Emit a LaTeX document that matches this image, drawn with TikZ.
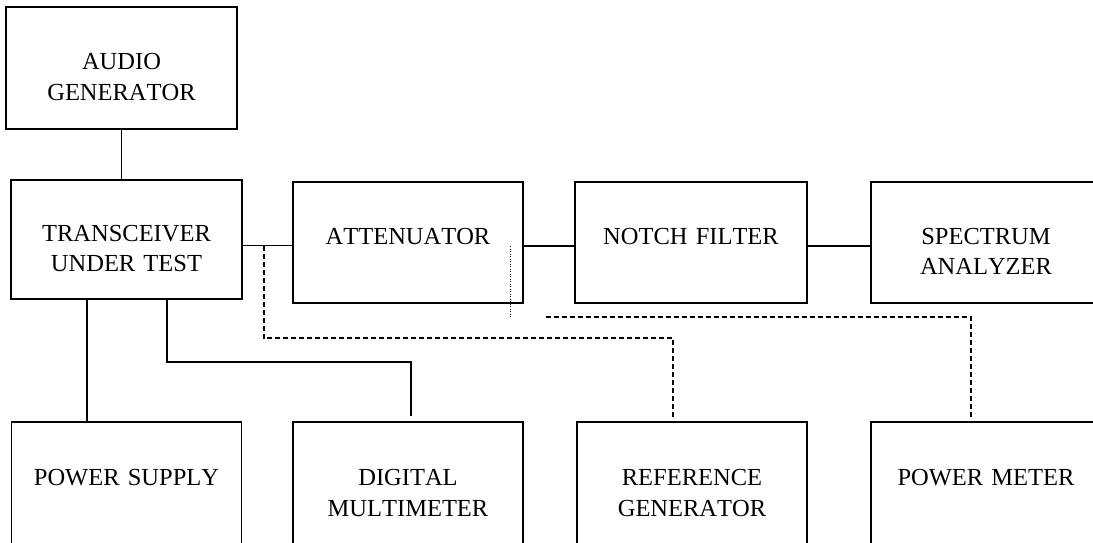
\documentclass[tikz,border=0pt]{standalone}
\usepackage{fontspec}
\setmainfont[Kerning=Off]{Liberation Serif}
\usetikzlibrary{calc}

\begin{document}
\begin{tikzpicture}[x=1pt, y=-1pt,
  every node/.style={font=\fontsize{24.5}{30.5}\selectfont},
  blk/.style={draw, line width=1.6pt, minimum width=230pt, minimum height=121pt,
    inner sep=0pt, text width=228pt, align=center, text height=19pt, text depth=16pt},
  wire/.style={line width=1.6pt},
  dsh/.style={line width=1.6pt, dash pattern=on 5pt off 3pt},
  dot/.style={line width=1.2pt, dash pattern=on 1pt off 1.5pt}]
  \useasboundingbox (0,0) rectangle (1093,542);

  % bovenste rij
  \node[blk, minimum width=231pt, minimum height=122pt] (audio) at (121.5,68) {AUDIO\\GENERATOR};
  \node[blk, minimum width=231pt, minimum height=119pt] (trx) at (126.5,239.5) {TRANSCEIVER\\UNDER TEST};
  \node[blk] (att) at (408,242.5) {ATTENUATOR};
  \node[blk, minimum width=232pt] (notch) at (691,242.5) {NOTCH FILTER};
  \node[blk] (spec) at (986,242.5) {SPECTRUM\\ANALYZER};

  % onderste rij
  \node[blk, minimum height=124pt] (psu) at (126.5,484) {POWER SUPPLY};
  \node[blk, minimum height=124pt] (dmm) at (408,484) {DIGITAL\\MULTIMETER};
  \node[blk, minimum height=124pt] (refgen) at (692,484) {REFERENCE\\GENERATOR};
  \node[blk, minimum height=124pt] (pwm) at (986,484) {POWER METER};

  % signaalketen
  \draw[wire] (audio.south) -- (audio.south |- trx.north);
  \draw[wire] ([yshift=-6pt]trx.east) -- ([yshift=-3pt]att.west);
  \draw[wire] ([yshift=-3.5pt]att.east) -- ([yshift=-3.5pt]notch.west);
  \draw[wire] ([yshift=-3.5pt]notch.east) -- ([yshift=-3.5pt]spec.west);

  % voeding en meter
  \draw[wire] ([xshift=-39.5pt]trx.south) -- ([xshift=-39.5pt]trx.south |- psu.north);
  \draw[wire, shorten >=5pt] ([xshift=40.5pt]trx.south) -- ++(0,62) -| ([xshift=3pt]dmm.north);

  % gestippelde verbindingen
  \coordinate (tapA) at ($(trx.east)+(21,6)$);
  \coordinate (tapB) at ($(att.east)+(-13,3.5)$);
  \draw[dsh, shorten >=2pt] (tapA) -- ++(0,92.5) -| ([xshift=-19pt]refgen.north);
  \draw[dot] (tapB) -- ++(0,71);
  \draw[dsh, shorten >=4pt] ($(notch.south west)+(-28,13)$) -| ([xshift=-15pt]pwm.north);
\end{tikzpicture}
\end{document}
